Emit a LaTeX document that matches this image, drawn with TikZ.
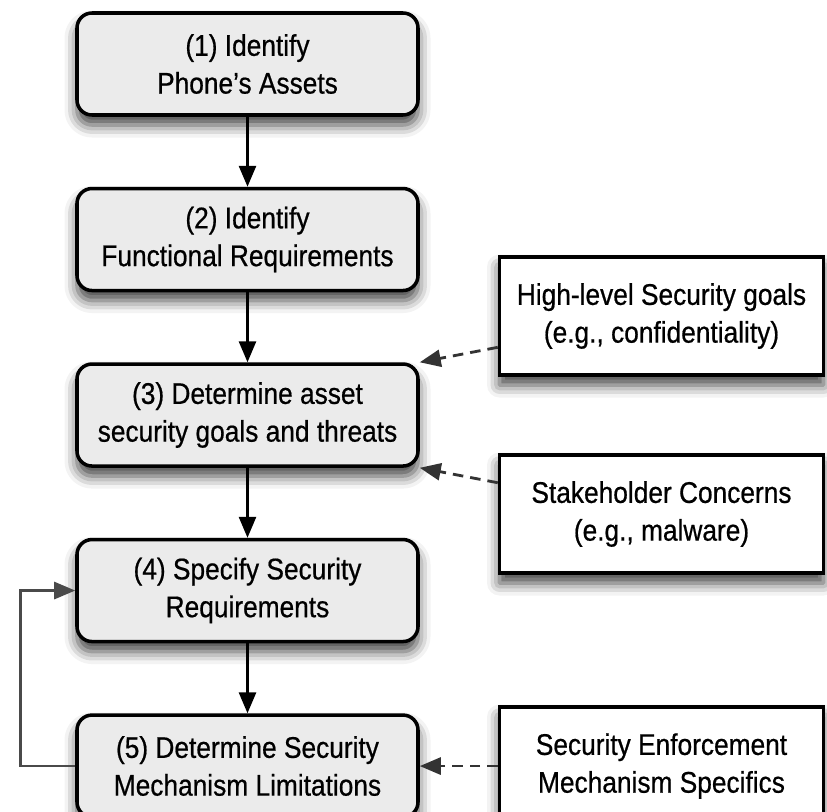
\documentclass[tikz,border=0pt]{standalone}
\usepackage{fontspec}
\setmainfont[FakeStretch=0.88, FakeBold=0.6]{Liberation Sans}
\usetikzlibrary{arrows.meta, positioning, shadows.blur}
\definecolor{stepgray}{HTML}{EBEBEB}
\definecolor{loopgray}{HTML}{4A4A4A}
\definecolor{dashgray}{HTML}{333333}

\begin{document}
\begin{tikzpicture}[
  node distance=1.4cm,
  every node/.style={font=\fontsize{17}{21.5}\selectfont},
  stepbox/.style={rectangle, rounded corners=0.3cm, draw=black, fill=stepgray, line width=2pt, minimum width=6.82cm, minimum height=2.04cm, align=center, blur shadow={shadow xshift=0pt, shadow yshift=-0.2cm, shadow blur radius=0.25cm, shadow opacity=75}},
  inbox/.style={rectangle, draw=black, fill=white, line width=2pt, minimum width=6.48cm, minimum height=2.36cm, align=center, blur shadow={shadow xshift=0pt, shadow yshift=-0.2cm, shadow blur radius=0.25cm, shadow opacity=75}},
  arrow/.style={-{Triangle[width=0.34cm,length=0.42cm]}, line width=1.6pt, #1},
  arrow/.default=black,
]
\useasboundingbox (0,0) rectangle (16.54,-16.22);
\node[stepbox] (assets) at (4.95,-1.28) {(1) Identify\\Phone's Assets};
\node[stepbox, below=of assets] (funcreq) {(2) Identify\\Functional Requirements};
\node[stepbox, below=of funcreq] (threats) {(3) Determine asset\\security goals and threats};
\node[stepbox, below=of threats] (secreq) {(4) Specify Security\\Requirements};
\node[stepbox, below=of secreq] (limits) {(5) Determine Security\\Mechanism Limitations};

\node[inbox, right=1.56cm of threats, yshift=1.98cm] (goals) {High-level Security goals\\(e.g., confidentiality)};
\node[inbox, right=1.56cm of threats, yshift=-1.98cm] (concerns) {Stakeholder Concerns\\(e.g., malware)};
\node[inbox, right=1.56cm of limits] (specifics) {Security Enforcement\\Mechanism Specifics};

\draw[arrow] (assets) -- (funcreq);
\draw[arrow] (funcreq) -- (threats);
\draw[arrow] (threats) -- (secreq);
\draw[arrow] (secreq) -- (limits);

% inputs from the right
\draw[arrow=dashgray, dashed, dash pattern=on 6pt off 4pt] (goals) -- (threats.north east);
\draw[arrow=dashgray, dashed, dash pattern=on 6pt off 4pt] (concerns) -- (threats.south east);
\draw[arrow=dashgray, dashed, dash pattern=on 6pt off 4pt] (specifics) -- (limits);

% iterate back
\draw[arrow=loopgray] (limits.west) -- ++(-1.1,0) |- (secreq.west);
\end{tikzpicture}
\end{document}
